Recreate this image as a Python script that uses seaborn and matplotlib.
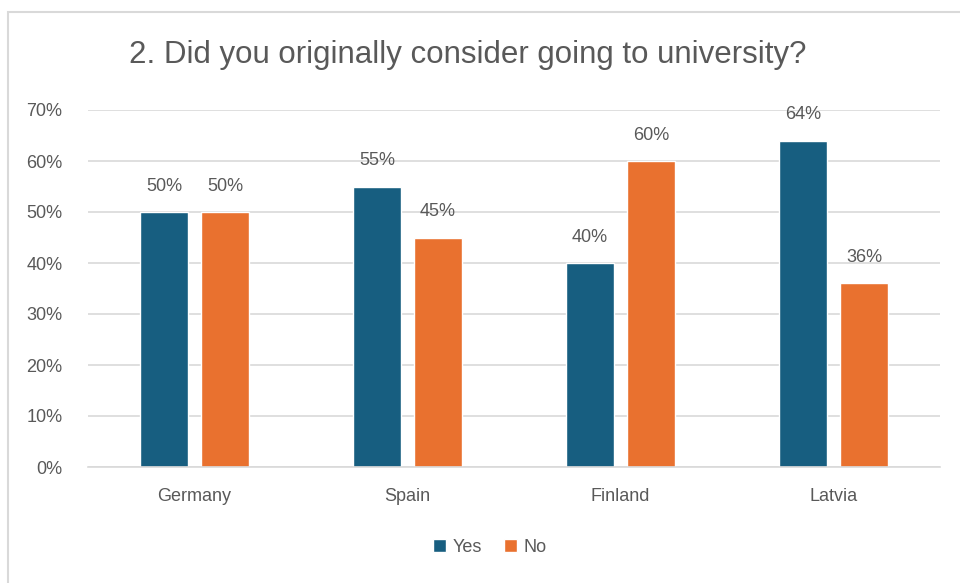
import matplotlib
matplotlib.use("Agg")
import matplotlib.pyplot as plt
from matplotlib.patches import Rectangle
from matplotlib.ticker import PercentFormatter, MultipleLocator
import seaborn as sns
import pandas as pd

countries = ["Germany", "Spain", "Finland", "Latvia"]
yes_values = [50, 55, 40, 64]
no_values = [50, 45, 60, 36]
series_names = ["Yes", "No"]
title_text = "2. Did you originally consider going to university?"

df = pd.DataFrame({
    "country": countries * 2,
    "answer": [series_names[0]] * len(countries) + [series_names[1]] * len(countries),
    "value": yes_values + no_values,
})

sns.set_theme(style="white")
plt.rcParams["font.family"] = ["Liberation Sans Narrow", "Liberation Sans", "DejaVu Sans"]

text_color = "#595959"
palette = {"Yes": "#175E80", "No": "#E9712F"}

fig = plt.figure(figsize=(9.6, 5.83), dpi=100)
ax = fig.add_axes([88 / 960, 1 - 467 / 583, (940 - 88) / 960, (467 - 110) / 583])

sns.barplot(data=df, x="country", y="value", hue="answer", palette=palette,
            width=0.575, gap=0.21, ax=ax, legend=True, saturation=1)

ax.set_ylim(0, 70)
ax.yaxis.set_major_locator(MultipleLocator(10))
ax.yaxis.set_major_formatter(PercentFormatter(decimals=0))
ax.grid(axis="y", color="#D9D9D9", linewidth=1.2)
ax.set_axisbelow(True)
for s in ["top", "right", "left"]:
    ax.spines[s].set_visible(False)
ax.spines["bottom"].set_color("#D9D9D9")
ax.spines["bottom"].set_linewidth(1.2)
ax.set_xlabel("")
ax.set_ylabel("")
ax.tick_params(axis="both", length=0, colors=text_color, labelsize=13)
ax.tick_params(axis="y", pad=18.5)
ax.tick_params(axis="x", pad=15)

for cont in ax.containers:
    ax.bar_label(cont, fmt="%.0f%%", padding=12.5, color=text_color, fontsize=13)

handles, labels = ax.get_legend_handles_labels()
ax.legend_.remove()
fig.legend(handles, labels, loc="center", bbox_to_anchor=(490 / 960, 1 - 547 / 583),
           ncol=2, frameon=False, fontsize=13, labelcolor=text_color,
           handlelength=0.7, handleheight=0.7, handletextpad=0.4, columnspacing=1.2)

fig.text(468 / 960, 1 - 55 / 583, title_text, ha="center", va="center",
         fontsize=22.5, color=text_color)

fig.patches.append(Rectangle((8 / 960, -0.05), 1.1, 1 - 12 / 583 + 0.05,
                             transform=fig.transFigure, fill=False,
                             edgecolor="#D9D9D9", linewidth=1.5))

fig.savefig("out.png", dpi=100)
